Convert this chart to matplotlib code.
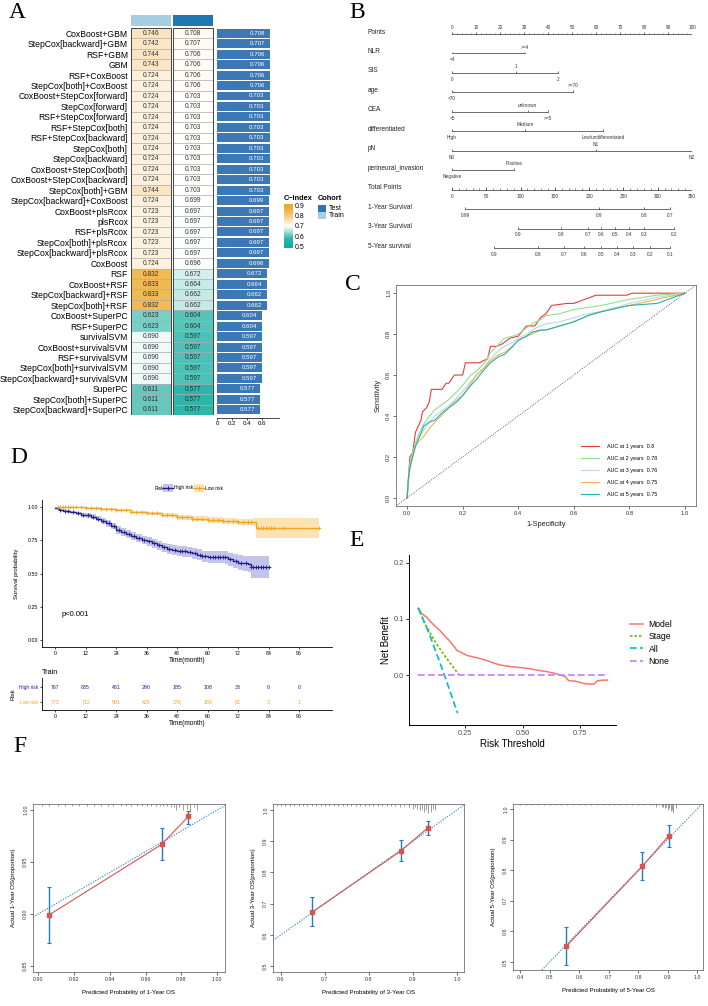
import numpy as np
import matplotlib
matplotlib.use('Agg')
import matplotlib.pyplot as plt
import matplotlib.transforms as mtransforms
from matplotlib.patches import Rectangle
from matplotlib.lines import Line2D
from matplotlib.colors import LinearSegmentedColormap, Normalize

plt.rcParams['font.family'] = ['Liberation Sans', 'DejaVu Sans']

# ---------------- data ----------------
models = ['CoxBoost+GBM', 'StepCox[backward]+GBM', 'RSF+GBM', 'GBM', 'RSF+CoxBoost',
          'StepCox[both]+CoxBoost', 'CoxBoost+StepCox[forward]', 'StepCox[forward]',
          'RSF+StepCox[forward]', 'RSF+StepCox[both]', 'RSF+StepCox[backward]',
          'StepCox[both]', 'StepCox[backward]', 'CoxBoost+StepCox[both]',
          'CoxBoost+StepCox[backward]', 'StepCox[both]+GBM', 'StepCox[backward]+CoxBoost',
          'CoxBoost+plsRcox', 'plsRcox', 'RSF+plsRcox', 'StepCox[both]+plsRcox',
          'StepCox[backward]+plsRcox', 'CoxBoost', 'RSF', 'CoxBoost+RSF',
          'StepCox[backward]+RSF', 'StepCox[both]+RSF', 'CoxBoost+SuperPC', 'RSF+SuperPC',
          'survivalSVM', 'CoxBoost+survivalSVM', 'RSF+survivalSVM',
          'StepCox[both]+survivalSVM', 'StepCox[backward]+survivalSVM', 'SuperPC',
          'StepCox[both]+SuperPC', 'StepCox[backward]+SuperPC']
train_cindex = [0.746, 0.742, 0.744, 0.743, 0.724, 0.724, 0.724, 0.724, 0.724, 0.724, 0.724,
                0.724, 0.724, 0.724, 0.724, 0.744, 0.724, 0.723, 0.723, 0.723, 0.723, 0.723,
                0.724, 0.832, 0.833, 0.833, 0.832, 0.623, 0.623, 0.690, 0.690, 0.690, 0.690,
                0.690, 0.611, 0.611, 0.611]
test_cindex = [0.708, 0.707, 0.706, 0.706, 0.706, 0.706, 0.703, 0.703, 0.703, 0.703, 0.703,
               0.703, 0.703, 0.703, 0.703, 0.703, 0.699, 0.697, 0.697, 0.697, 0.697, 0.697,
               0.696, 0.672, 0.664, 0.662, 0.662, 0.604, 0.604, 0.597, 0.597, 0.597, 0.597,
               0.597, 0.577, 0.577, 0.577]
cindex_ticks = [0.5, 0.6, 0.7, 0.8, 0.9]

nom_vars = ['NLR', 'SIS', 'age', 'CEA', 'differentiated', 'pN', 'perineural_invasion']
nom_levels = [['<4', '>=4'], ['0', '1', '2'], ['<70', '>=70'], ['<5', 'unknown', '>=5'],
              ['High', 'Medium', 'Low/undifferentiated'], ['N0', 'N1', 'N2'],
              ['Negative', 'Positive']]
nom_points = [[0, 30.5], [0, 26.5, 44], [0, 50.5], [0, 31.5, 40], [0, 30.5, 63],
              [0, 60, 100], [0, 26]]
surv_names = ['1-Year Survival', '3-Year Survival', '5-Year survival']
surv_probs = [['0.99', '0.9', '0.8', '0.7'],
              ['0.9', '0.8', '0.7', '0.6', '0.5', '0.4', '0.3', '0.2'],
              ['0.9', '0.8', '0.7', '0.6', '0.5', '0.4', '0.3', '0.2', '0.1']]
surv_total_pts = [[19, 214, 280, 318],
                  [96, 159, 198, 217, 238, 258, 280, 324],
                  [61, 125, 163, 193, 217, 241, 264, 289, 318]]

roc_years = [1, 2, 3, 4, 5]
roc_auc = ['0.8', '0.78', '0.76', '0.75', '0.75']
roc_fpr_1 = [0, 0.005, 0.01, 0.02, 0.03, 0.04, 0.05, 0.055, 0.07, 0.08, 0.087, 0.126, 0.14,
             0.15, 0.17, 0.2, 0.21, 0.26, 0.275, 0.29, 0.3, 0.32, 0.34, 0.37, 0.4, 0.43,
             0.46, 0.48, 0.5, 0.52, 0.575, 0.6, 0.68, 0.79, 0.81, 0.9, 1.0]
roc_tpr_1 = [0, 0.1, 0.2, 0.22, 0.32, 0.35, 0.38, 0.42, 0.44, 0.47, 0.53, 0.53, 0.56, 0.56,
             0.6, 0.6, 0.66, 0.66, 0.67, 0.68, 0.74, 0.74, 0.75, 0.78, 0.79, 0.84, 0.84,
             0.88, 0.9, 0.94, 0.95, 0.95, 0.99, 0.99, 1.0, 1.0, 1.0]
roc_fpr = [0, 0.005, 0.01, 0.02, 0.03, 0.045, 0.06, 0.08, 0.1, 0.13, 0.15, 0.18, 0.2, 0.23,
           0.25, 0.28, 0.3, 0.33, 0.35, 0.38, 0.4, 0.43, 0.45, 0.48, 0.5, 0.55, 0.6, 0.65,
           0.7, 0.8, 0.9, 1.0]
roc_tpr_2 = [0, 0.1, 0.17, 0.22, 0.27, 0.32, 0.36, 0.4, 0.43, 0.46, 0.48, 0.52, 0.55, 0.6,
             0.62, 0.66, 0.71, 0.75, 0.78, 0.79, 0.8, 0.83, 0.85, 0.87, 0.89, 0.9, 0.92,
             0.93, 0.94, 0.97, 0.99, 1.0]
roc_tpr_3 = [0, 0.09, 0.15, 0.21, 0.26, 0.3, 0.33, 0.37, 0.4, 0.43, 0.45, 0.49, 0.52, 0.57,
             0.6, 0.64, 0.68, 0.72, 0.74, 0.76, 0.78, 0.8, 0.82, 0.84, 0.85, 0.86, 0.88,
             0.9, 0.91, 0.95, 0.98, 1.0]
roc_tpr_4 = [0, 0.08, 0.14, 0.2, 0.26, 0.28, 0.3, 0.34, 0.37, 0.41, 0.44, 0.48, 0.5, 0.56,
             0.6, 0.64, 0.67, 0.7, 0.71, 0.74, 0.77, 0.79, 0.8, 0.82, 0.82, 0.84, 0.86,
             0.89, 0.91, 0.94, 0.97, 1.0]
roc_tpr_5 = [0, 0.1, 0.15, 0.2, 0.25, 0.3, 0.35, 0.37, 0.38, 0.42, 0.44, 0.47, 0.5, 0.55,
             0.58, 0.63, 0.66, 0.69, 0.7, 0.74, 0.77, 0.79, 0.81, 0.82, 0.82, 0.84, 0.86,
             0.89, 0.91, 0.94, 0.95, 1.0]

km_high_t = [0, 1, 2, 3, 4, 6, 8, 10, 12, 14, 16, 18, 20, 22, 24, 26, 28, 30, 32, 34, 36, 38,
             40, 42, 44, 46, 48, 50, 52, 54, 56, 58, 60, 64, 67, 68, 70, 72, 74, 76, 77, 84]
km_high_s = [0.99, 0.98, 0.975, 0.97, 0.965, 0.96, 0.95, 0.94, 0.935, 0.925, 0.91, 0.895,
             0.875, 0.855, 0.825, 0.81, 0.795, 0.78, 0.765, 0.75, 0.74, 0.725, 0.71, 0.695,
             0.685, 0.675, 0.67, 0.665, 0.66, 0.65, 0.64, 0.63, 0.625, 0.625, 0.62, 0.605,
             0.595, 0.58, 0.575, 0.57, 0.55, 0.55]
km_high_hw = [0.005, 0.007, 0.008, 0.009, 0.01, 0.011, 0.013, 0.015, 0.016, 0.018, 0.02,
              0.022, 0.024, 0.025, 0.027, 0.028, 0.029, 0.03, 0.031, 0.032, 0.033, 0.034,
              0.035, 0.036, 0.036, 0.037, 0.038, 0.038, 0.039, 0.04, 0.041, 0.042, 0.043,
              0.045, 0.047, 0.05, 0.052, 0.055, 0.058, 0.062, 0.08, 0.08]
km_low_t = [0, 6, 12, 18, 24, 30, 36, 42, 48, 54, 60, 66, 72, 78, 79, 104]
km_low_s = [1.0, 0.995, 0.99, 0.985, 0.975, 0.96, 0.95, 0.935, 0.92, 0.91, 0.9, 0.895,
            0.885, 0.885, 0.84, 0.84]
km_low_hw = [0.0, 0.004, 0.005, 0.006, 0.008, 0.01, 0.012, 0.014, 0.016, 0.018, 0.02, 0.022,
             0.025, 0.028, 0.075, 0.08]
km_high_cens = [2, 4, 5, 7, 9, 11, 13, 15, 17, 19, 21, 23, 25, 27, 29, 31, 33, 35, 37, 39,
                41, 43, 45, 47, 49, 50, 51, 53, 55, 57, 58, 59, 61, 62, 63, 64, 65, 66, 67,
                69, 71, 73, 75, 77, 78, 79, 80, 81, 82, 83, 84]
km_low_cens = [1, 2, 3, 4, 5, 6, 7, 8, 10, 12, 14, 16, 18, 20, 22, 24, 26, 28, 30, 32, 34,
               36, 38, 40, 42, 44, 46, 48, 50, 52, 54, 56, 58, 60, 62, 64, 66, 68, 70, 72,
               74, 76, 77, 80, 81, 82, 83, 84, 85, 86, 90, 104]
risk_times = [0, 12, 24, 36, 48, 60, 72, 84, 96]
risk_high = [767, 635, 481, 290, 185, 108, 38, 0, 0]
risk_low = [773, 712, 591, 425, 278, 169, 81, 3, 1]

dca_model_t = [0.046, 0.06, 0.083, 0.1, 0.12, 0.141, 0.16, 0.18, 0.2, 0.214, 0.235, 0.257,
               0.3, 0.344, 0.37, 0.4, 0.45, 0.519, 0.56, 0.606, 0.65, 0.686, 0.69, 0.70,
               0.73, 0.766, 0.79, 0.81, 0.824, 0.85, 0.868]
dca_model_nb = [0.119, 0.11, 0.103, 0.095, 0.087, 0.079, 0.07, 0.062, 0.052, 0.044, 0.04,
                0.035, 0.031, 0.026, 0.022, 0.018, 0.015, 0.012, 0.009, 0.006, 0.002,
                -0.003, -0.006, -0.01, -0.011, -0.015, -0.016, -0.016, -0.01, -0.009, -0.009]
dca_stage_t = [0.046, 0.08, 0.12, 0.16, 0.2, 0.224]
dca_stage_nb = [0.119, 0.088, 0.059, 0.035, 0.013, 0.0]
dca_all_t = [0.046, 0.1, 0.16, 0.217]
dca_all_nb = [0.12, 0.067, 0.0, -0.068]
dca_none_t = [0.046, 0.868]
dca_none_nb = [0.0, 0.0]

cal_years = [1, 3, 5]
cal_pred = [[0.906, 0.969, 0.984], [0.671, 0.872, 0.934], [0.556, 0.814, 0.904]]
cal_obs = [[0.899, 0.967, 0.994], [0.673, 0.868, 0.943], [0.551, 0.812, 0.912]]
cal_lo = [[0.872, 0.952, 0.987], [0.627, 0.836, 0.920], [0.491, 0.769, 0.877]]
cal_hi = [[0.926, 0.983, 0.999], [0.721, 0.904, 0.966], [0.613, 0.858, 0.948]]
rug1_x = [0.902, 0.906, 0.911, 0.915, 0.919, 0.923, 0.927, 0.931, 0.935, 0.939, 0.942,
          0.946, 0.949, 0.952, 0.955, 0.958, 0.961, 0.963, 0.966, 0.968, 0.970, 0.972,
          0.974, 0.976, 0.977, 0.979, 0.981, 0.983, 0.985, 0.987, 0.989]
rug1_n = [1, 1, 1, 1, 1, 1, 1, 1, 1, 1, 1, 1, 1, 1, 1, 1, 1, 1, 1, 1, 1, 1, 2, 2, 4, 2, 4,
          3, 5, 2, 4]
rug3_x = [0.59, 0.60, 0.61, 0.62, 0.63, 0.64, 0.65, 0.66, 0.67, 0.68, 0.69, 0.70, 0.71,
          0.72, 0.73, 0.74, 0.75, 0.76, 0.77, 0.78, 0.79, 0.80, 0.81, 0.82, 0.83, 0.84,
          0.85, 0.86, 0.87, 0.88, 0.89, 0.90, 0.905, 0.91, 0.915, 0.92, 0.925, 0.93, 0.935,
          0.94, 0.945, 0.95]
rug3_n = [1] * 26 + [1, 1, 2, 1, 2, 3, 2, 3, 4, 3, 5, 4, 6, 5, 3, 4]
rug5_x = [0.40, 0.42, 0.44, 0.46, 0.48, 0.50, 0.52, 0.54, 0.56, 0.58, 0.60, 0.62, 0.64,
          0.66, 0.68, 0.70, 0.72, 0.74, 0.76, 0.78, 0.80, 0.82, 0.84, 0.85, 0.86, 0.87,
          0.88, 0.885, 0.89, 0.895, 0.90, 0.905, 0.91, 0.915, 0.92, 0.93]
rug5_n = [1] * 23 + [1, 2, 1, 2, 2, 3, 2, 4, 3, 5, 4, 6, 3]

# ---------------- figure ----------------
W, H = 708, 1006
fig = plt.figure(figsize=(W / 100, H / 100), dpi=100)


def px_axes(x0, y0, x1, y1):
    return fig.add_axes([x0 / W, 1 - y1 / H, (x1 - x0) / W, (y1 - y0) / H])


def panel_label(x, y, s):
    fig.text(x / W, 1 - y / H, s, fontsize=17, family='Liberation Serif',
             ha='center', va='center')


for lab, px, py in [('A', 17, 13), ('B', 357, 13), ('C', 353, 285), ('D', 19, 458),
                    ('E', 357, 540), ('F', 20, 747)]:
    panel_label(px, py, lab)

# ---------------- A: C-index heatmap ----------------
cmap = LinearSegmentedColormap.from_list('cidx', [
    (0.0, '#10aa9f'), (0.19, '#2ab6aa'), (0.3, '#72cdc4'), (0.4, '#c2e9e4'),
    (0.5, '#ffffff'), (0.62, '#fbe2bc'), (0.83, '#f1ba52'), (1.0, '#eda52a')])
norm = Normalize(0.5, 0.9)
n = len(models)
train_col, test_col = '#a6cee3', '#1f78b4'

axA = px_axes(130, 28, 214, 415)
for i in range(n):
    for j, v in enumerate((train_cindex[i], test_cindex[i])):
        axA.add_patch(Rectangle((j + 0.02, i), 0.96, 1, fc=cmap(norm(v)), ec='#a8a8a8', lw=0.4))
        axA.text(j + 0.5, i + 0.52, f'{v:.3f}', ha='center', va='center', fontsize=4.8,
                 color='#333333')
for j, c in enumerate((train_col, test_col)):
    axA.add_patch(Rectangle((j + 0.02, 0), 0.96, n, fill=False, ec='#444444', lw=0.7))
    axA.add_patch(Rectangle((j + 0.02, -1.24), 0.96, 1.05, fc=c, ec='none', clip_on=False))
axA.set_xlim(0, 2)
axA.set_ylim(n, 0)
axA.set_yticks(np.arange(n) + 0.5, models, fontsize=6.2)
axA.set_xticks([])
axA.tick_params(length=0, pad=1.5)
for s in axA.spines.values():
    s.set_visible(False)

axBar = px_axes(217, 28, 279, 418)
axBar.barh(np.arange(n), test_cindex, height=0.86, color='#3b78b5')
for i, v in enumerate(test_cindex):
    axBar.text(v - 0.17, i, f'{v:.3f}', ha='center', va='center', fontsize=4.4, color='white')
axBar.set_ylim(36.78, -0.5)
axBar.set_xlim(0, 0.827)
axBar.set_yticks([])
axBar.set_xticks([0, 0.2, 0.4, 0.6], ['0', '0.2', '0.4', '0.6'])
axBar.tick_params(axis='x', labelsize=4.4, length=1.5, width=0.5, pad=1)
for k in ('top', 'right', 'left'):
    axBar.spines[k].set_visible(False)
axBar.spines['bottom'].set_linewidth(0.5)

cax = px_axes(284, 204, 293, 248)
sm = plt.cm.ScalarMappable(norm=Normalize(0.49, 0.91), cmap=LinearSegmentedColormap.from_list(
    'cb', [cmap(norm(v)) for v in np.linspace(0.49, 0.91, 64)]))
cb = fig.colorbar(sm, cax=cax, ticks=cindex_ticks)
cb.outline.set_visible(False)
cb.set_ticklabels([f'{t:.1f}' for t in cindex_ticks])
cax.tick_params(labelsize=5, length=0, pad=1)
fig.text(284 / W, 1 - 198 / H, 'C\u2212index', fontsize=5.3, fontweight='bold', va='center')
fig.text(318 / W, 1 - 198 / H, 'Cohort', fontsize=5.3, fontweight='bold', va='center')
for k, (lab, c) in enumerate([('Test', '#2f73b3'), ('Train', train_col)]):
    y0 = 205 + 7 * k
    fig.add_artist(Rectangle((318 / W, 1 - (y0 + 7) / H), 8 / W, 7 / H, fc=c, ec='none',
                             transform=fig.transFigure))
    fig.text(329 / W, 1 - (y0 + 3.5) / H, lab, fontsize=5, va='center')

# ---------------- B: nomogram ----------------
line_c = '#333333'
axB = px_axes(452, 20, 692, 256)
axB.set_xlim(0, 100)
axB.set_ylim(11.41, -0.72)
axB.axis('off')
axT = fig.add_axes(axB.get_position())
axT.set_xlim(0, 350)
axT.set_ylim(11.41, -0.72)
axT.axis('off')
lab_tr = mtransforms.blended_transform_factory(fig.transFigure, axB.transData)
row_names = ['Points'] + nom_vars + ['Total Points'] + surv_names
for i, name in enumerate(row_names):
    axB.text(368 / W, i - 0.1, name, transform=lab_tr, fontsize=4.7, va='center',
             ha='left', color='#222222')
nfs = 3.4
# points axis
axB.plot([0, 100], [0, 0], color=line_c, lw=0.5)
axB.vlines(np.arange(0, 101, 2), 0, -0.06, color=line_c, lw=0.4)
axB.vlines(np.arange(0, 101, 10), 0, -0.12, color=line_c, lw=0.5)
for p in range(0, 101, 10):
    axB.text(p, -0.33, str(p), fontsize=nfs, ha='center', va='center', color='#333333')
# predictors
for r, (levels, pts) in enumerate(zip(nom_levels, nom_points), start=1):
    axB.plot([min(pts), max(pts)], [r, r], color=line_c, lw=0.5)
    axB.vlines(pts, r, r - 0.1, color=line_c, lw=0.5)
    order = np.argsort(pts)
    for k, idx in enumerate(order):
        dy = 0.33 if k % 2 == 0 else -0.33
        axB.text(pts[idx], r + dy, levels[idx], fontsize=nfs, ha='center', va='center',
                 color='#333333')
# total points
rt = len(nom_vars) + 1
axT.plot([0, 350], [rt, rt], color=line_c, lw=0.5)
axT.vlines(np.arange(0, 351, 10), rt, rt - 0.06, color=line_c, lw=0.4)
axT.vlines(np.arange(0, 351, 50), rt, rt - 0.12, color=line_c, lw=0.5)
for p in range(0, 351, 50):
    axT.text(p, rt + 0.33, str(p), fontsize=nfs, ha='center', va='center', color='#333333')
for k, (probs, pts) in enumerate(zip(surv_probs, surv_total_pts)):
    r = rt + 1 + k
    axT.plot([min(pts), max(pts)], [r, r], color=line_c, lw=0.5)
    axT.vlines(pts, r, r - 0.1, color=line_c, lw=0.5)
    for pr, p in zip(probs, pts):
        axT.text(p, r + 0.33, pr, fontsize=nfs, ha='center', va='center', color='#333333')


def r_style(ax, fs):
    for s in ax.spines.values():
        s.set_linewidth(0.5)
        s.set_color('#555555')
    ax.tick_params(direction='out', length=2, width=0.5, labelsize=fs, pad=1.5,
                   colors='#333333')
    ax.tick_params(axis='y', labelrotation=90)
    for t in ax.get_yticklabels():
        t.set_va('center')


# ---------------- C: ROC ----------------
axC = px_axes(396, 285, 696, 506)
roc_cols = ['#ec3b3b', '#94de8f', '#b6d9ea', '#f5b34f', '#22b3b0']
roc_tprs = [roc_tpr_1, roc_tpr_2, roc_tpr_3, roc_tpr_4, roc_tpr_5]
for k, (yr, auc, col) in enumerate(zip(roc_years, roc_auc, roc_cols)):
    fpr = roc_fpr_1 if k == 0 else roc_fpr
    axC.plot(fpr, roc_tprs[k], color=col, lw=0.8, label=f'AUC at {yr} years  {auc}')
axC.axline((0, 0), (1, 1), ls=(0, (1, 1.5)), color='#444444', lw=0.6)
axC.set_xlim(-0.04, 1.04)
axC.set_ylim(-0.04, 1.04)
axC.set_xticks(np.arange(0, 1.01, 0.2))
axC.set_yticks(np.arange(0, 1.01, 0.2))
axC.set_xticklabels([f'{v:.1f}' for v in np.arange(0, 1.01, 0.2)])
axC.set_yticklabels([f'{v:.1f}' for v in np.arange(0, 1.01, 0.2)])
r_style(axC, 4.2)
axC.set_xlabel('1-Specificity', fontsize=5.3, labelpad=4, color='#222222')
axC.set_ylabel('Sensitivity', fontsize=5.3, labelpad=3, color='#222222')
axC.legend(loc='upper left', bbox_to_anchor=(579 / W, 1 - 442 / H), bbox_transform=fig.transFigure,
           frameon=False, fontsize=3.9, handlelength=3.2, labelspacing=1.3,
           borderaxespad=0, handletextpad=1.6)

# ---------------- D: Kaplan-Meier ----------------
navy, orange = '#1d1d8e', '#f5a31d'
band_h, band_l = '#8a8ad6', '#fbc965'
axD = px_axes(42, 500, 332, 647)
for t, s, hw, lc, bc in [(km_high_t, km_high_s, km_high_hw, navy, band_h),
                         (km_low_t, km_low_s, km_low_hw, orange, band_l)]:
    s = np.array(s)
    hw = np.array(hw)
    axD.fill_between(t, s - hw, np.minimum(s + hw, 1.0), step='post', color=bc, alpha=0.5, lw=0)
    axD.step(t, s, where='post', color=lc, lw=1.0)
for t, s, ct, lc in [(km_high_t, km_high_s, km_high_cens, navy),
                     (km_low_t, km_low_s, km_low_cens, orange)]:
    idx = np.searchsorted(t, ct, side='right') - 1
    axD.plot(ct, np.array(s)[idx], ls='none', marker='+', ms=3.5, mew=0.6, color=lc)
axD.set_xlim(-5.2, 109)
axD.set_ylim(-0.05, 1.05)
axD.set_xticks(risk_times)
axD.set_yticks([0, 0.25, 0.5, 0.75, 1.0], ['0.00', '0.25', '0.50', '0.75', '1.00'])
for k in ('top', 'right'):
    axD.spines[k].set_visible(False)
for k in ('left', 'bottom'):
    axD.spines[k].set_linewidth(0.6)
axD.tick_params(labelsize=3.8, length=1.5, width=0.5, pad=1.5)
axD.set_xlabel('Time(month)', fontsize=4.7, labelpad=0.5)
axD.set_ylabel('Survival probability', fontsize=4.3, labelpad=6)
axD.text(2.3, 0.19, 'p<0.001', fontsize=5.5, ha='left', va='center')
fig.text(155 / W, 1 - 488 / H, 'Risk', fontsize=3.5, va='center')
for x0, lc, bc, lab in [(163, navy, band_h, 'High risk'), (194, orange, band_l, 'Low risk')]:
    fig.add_artist(Rectangle((x0 / W, 1 - 492 / H), 10 / W, 8 / H, fc=bc, alpha=0.5, ec='none',
                             transform=fig.transFigure))
    fig.add_artist(Line2D([x0 / W, (x0 + 10) / W], [1 - 488 / H] * 2, color=lc, lw=1,
                          transform=fig.transFigure))
    fig.add_artist(Line2D([(x0 + 5) / W], [1 - 488 / H], color=lc, marker='+', ms=3.5,
                          mew=0.7, transform=fig.transFigure))
    fig.text((x0 + 11) / W, 1 - 488 / H, lab, fontsize=3.5, va='center')

axR = px_axes(42, 678, 332, 710)
for row, (vals, col) in enumerate([(risk_high, navy), (risk_low, orange)]):
    for t, v in zip(risk_times, vals):
        axR.text(t, row, str(v), fontsize=3.8, ha='center', va='center', color=col)
axR.set_xlim(-5.2, 109)
axR.set_ylim(1.53, -0.6)
axR.set_xticks(risk_times)
axR.set_yticks([0, 1], ['High risk', 'Low risk'])
for tl, col in zip(axR.get_yticklabels(), (navy, orange)):
    tl.set_color(col)
for k in ('top', 'right'):
    axR.spines[k].set_visible(False)
for k in ('left', 'bottom'):
    axR.spines[k].set_linewidth(0.6)
axR.tick_params(labelsize=3.8, length=1.5, width=0.5, pad=1.5)
axR.tick_params(axis='y', labelsize=3.5)
axR.set_xlabel('Time(month)', fontsize=4.7, labelpad=0.5)
axR.set_ylabel('Risk', fontsize=4.3, labelpad=2)
axR.set_title('Train', loc='left', fontsize=5.2, pad=3)

# ---------------- E: decision curve ----------------
axE = px_axes(409, 555, 616, 725)
axE.plot(dca_model_t, dca_model_nb, color='#f8766d', lw=1.1, label='Model')
axE.plot(dca_stage_t, dca_stage_nb, color='#7cae00', lw=1.2, ls=(0, (1.5, 1.2)), label='Stage')
axE.plot(dca_all_t, dca_all_nb, color='#00bfc4', lw=1.2, ls=(0, (4, 2)), label='All')
axE.plot(dca_none_t, dca_none_nb, color='#c77cff', lw=1.2, ls=(0, (4, 2)), label='None')
axE.set_xlim(0.006, 0.905)
axE.set_ylim(-0.089, 0.214)
axE.set_xticks([0.25, 0.5, 0.75], ['0.25', '0.50', '0.75'])
axE.set_yticks([0.0, 0.1, 0.2], ['0.0', '0.1', '0.2'])
for k in ('top', 'right'):
    axE.spines[k].set_visible(False)
for k in ('left', 'bottom'):
    axE.spines[k].set_linewidth(0.7)
axE.tick_params(labelsize=5.3, length=2, width=0.6, pad=1.5, labelcolor='#4d4d4d')
axE.set_xlabel('Risk Threshold', fontsize=7, labelpad=1.5)
axE.set_ylabel('Net Benefit', fontsize=7, labelpad=2)
axE.legend(loc='center left', bbox_to_anchor=(627 / W, 1 - 643 / H), bbox_transform=fig.transFigure,
           frameon=False, fontsize=6.2, handlelength=1.4, handletextpad=0.7, labelspacing=0.35,
           borderaxespad=0)

# ---------------- F: calibration ----------------
cal_boxes = [(33, 804, 225, 972), (273, 804, 464, 972), (513, 804, 703, 970)]
cal_xlims = [(0.897, 1.0045), (0.582, 1.016), (0.376, 1.02)]
cal_ylims = [(0.844, 1.006), (0.481, 1.019), (0.474, 1.016)]
cal_xticks = [np.arange(0.90, 1.001, 0.02), np.arange(0.6, 1.01, 0.1), np.arange(0.4, 1.01, 0.1)]
cal_yticks = [np.arange(0.85, 1.001, 0.05), np.arange(0.5, 1.01, 0.1), np.arange(0.5, 1.01, 0.1)]
cal_fmt = ['{:.2f}', '{:.1f}', '{:.1f}']
rugs = [(rug1_x, rug1_n), (rug3_x, rug3_n), (rug5_x, rug5_n)]
for k in range(3):
    ax = px_axes(*cal_boxes[k])
    ax.axline((0, 0), (1, 1), ls=(0, (1.2, 1.2)), color='#3a8fd0', lw=0.8)
    ax.plot(cal_pred[k], cal_obs[k], color='#d9534f', lw=0.8)
    yerr = [np.array(cal_obs[k]) - np.array(cal_lo[k]), np.array(cal_hi[k]) - np.array(cal_obs[k])]
    ax.errorbar(cal_pred[k], cal_obs[k], yerr=yerr, fmt='none', ecolor='#1f7bd0', elinewidth=1.0,
                capsize=1.5, capthick=0.8)
    ax.plot(cal_pred[k], cal_obs[k], ls='none', marker='s', ms=2.2, color='#d9534f')
    rx, rn = rugs[k]
    tr = mtransforms.blended_transform_factory(ax.transData, ax.transAxes)
    ax.vlines(rx, 1 - 0.009 * np.array(rn), 1, color='#555555', lw=0.4, transform=tr)
    ax.set_xlim(*cal_xlims[k])
    ax.set_ylim(*cal_ylims[k])
    ax.set_xticks(cal_xticks[k], [cal_fmt[k].format(v) for v in cal_xticks[k]])
    ax.set_yticks(cal_yticks[k], [cal_fmt[k].format(v) for v in cal_yticks[k]])
    r_style(ax, 3.8)
    ax.set_xlabel(f'Predicted Probability of {cal_years[k]}-Year OS', fontsize=4.4, labelpad=6)
    ax.set_ylabel(f'Actual {cal_years[k]}-Year OS(proportion)', fontsize=4.4, labelpad=5)

fig.savefig('out.png', dpi=100)
